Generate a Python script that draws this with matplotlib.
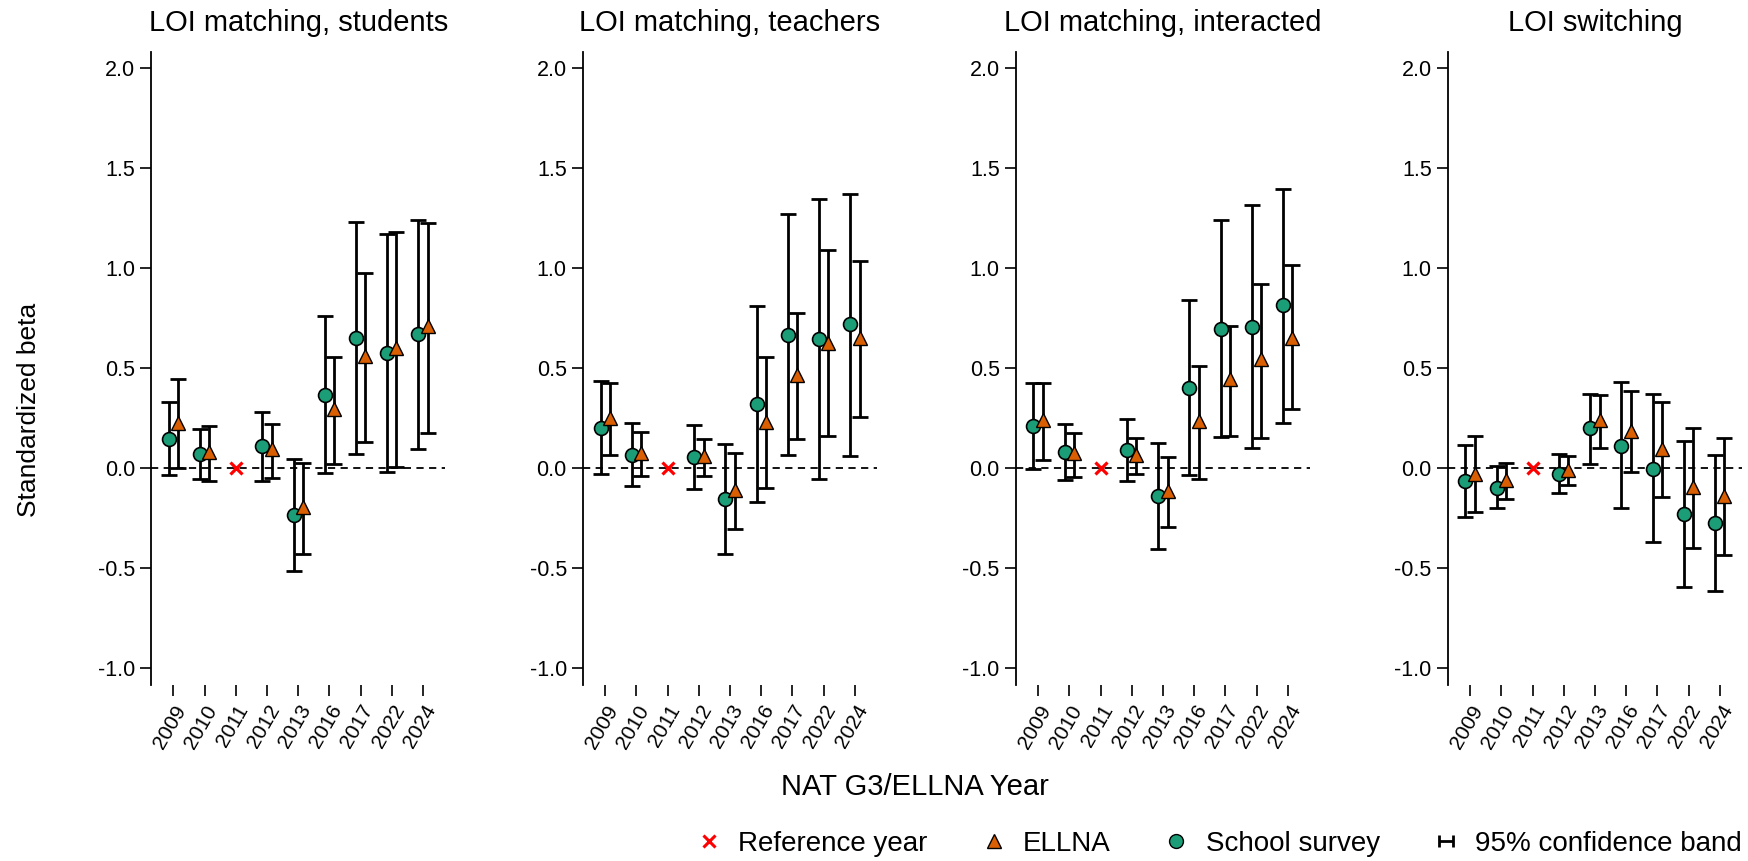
import numpy as np
import matplotlib
matplotlib.use('Agg')
import matplotlib.pyplot as plt
from matplotlib.lines import Line2D
from matplotlib.legend_handler import HandlerErrorbar
from matplotlib.container import ErrorbarContainer

plt.rcParams['font.family'] = ['Liberation Sans', 'DejaVu Sans']

# Data
years = ['2009', '2010', '2011', '2012', '2013', '2016', '2017', '2022', '2024']
ref_year = '2011'
titles = ['LOI matching, students', 'LOI matching, teachers',
          'LOI matching, interacted', 'LOI switching']
nan = np.nan

# School survey estimates and 95% bands
survey_est = [
    [0.146, 0.07, nan, 0.111, -0.234, 0.367, 0.65, 0.578, 0.67],
    [0.203, 0.068, nan, 0.055, -0.153, 0.32, 0.668, 0.645, 0.72],
    [0.213, 0.083, nan, 0.093, -0.137, 0.403, 0.698, 0.708, 0.815],
    [-0.063, -0.097, nan, -0.028, 0.2, 0.113, -0.002, -0.228, -0.272],
]
survey_lo = [
    [-0.033, -0.054, nan, -0.062, -0.512, -0.025, 0.07, -0.017, 0.095],
    [-0.028, -0.088, nan, -0.105, -0.428, -0.17, 0.068, -0.054, 0.063],
    [-0.003, -0.06, nan, -0.063, -0.403, -0.033, 0.158, 0.103, 0.228],
    [-0.243, -0.198, nan, -0.123, 0.023, -0.198, -0.368, -0.592, -0.612],
]
survey_hi = [
    [0.33, 0.195, nan, 0.283, 0.045, 0.76, 1.233, 1.173, 1.24],
    [0.437, 0.225, nan, 0.217, 0.122, 0.813, 1.272, 1.347, 1.372],
    [0.427, 0.223, nan, 0.248, 0.128, 0.842, 1.242, 1.315, 1.398],
    [0.117, 0.012, nan, 0.07, 0.373, 0.43, 0.37, 0.135, 0.067],
]

# ELLNA estimates and 95% bands
ellna_est = [
    [0.225, 0.08, nan, 0.095, -0.195, 0.295, 0.56, 0.603, 0.71],
    [0.25, 0.078, nan, 0.062, -0.108, 0.233, 0.467, 0.625, 0.65],
    [0.24, 0.075, nan, 0.067, -0.112, 0.237, 0.445, 0.545, 0.65],
    [-0.027, -0.06, nan, -0.007, 0.24, 0.187, 0.098, -0.095, -0.138],
]
ellna_lo = [
    [0.0, -0.064, nan, -0.05, -0.428, 0.02, 0.132, 0.008, 0.178],
    [0.065, -0.04, nan, -0.04, -0.303, -0.1, 0.147, 0.162, 0.258],
    [0.043, -0.042, nan, -0.028, -0.292, -0.053, 0.162, 0.153, 0.295],
    [-0.22, -0.152, nan, -0.082, 0.102, -0.02, -0.145, -0.397, -0.435],
]
ellna_hi = [
    [0.446, 0.21, nan, 0.221, 0.025, 0.558, 0.975, 1.183, 1.228],
    [0.425, 0.183, nan, 0.147, 0.077, 0.557, 0.777, 1.09, 1.038],
    [0.427, 0.175, nan, 0.15, 0.057, 0.513, 0.71, 0.92, 1.015],
    [0.162, 0.025, nan, 0.062, 0.368, 0.388, 0.33, 0.202, 0.153],
]

green = '#1b9e77'
orange = '#d95f02'
offset = 0.15

fig = plt.figure(figsize=(17.49, 8.61), dpi=100)
lefts = [0.0863, 0.3332, 0.5807, 0.8277]
x = np.arange(len(years))
ref_idx = years.index(ref_year)

for i in range(4):
    ax = fig.add_axes([lefts[i], 0.2044, 0.1684, 0.7356])
    ax.axhline(0, color='black', ls=(0, (4, 3)), lw=1.3, zorder=1)

    s = np.array(survey_est[i])
    e = np.array(ellna_est[i])
    s_err = [s - np.array(survey_lo[i]), np.array(survey_hi[i]) - s]
    e_err = [e - np.array(ellna_lo[i]), np.array(ellna_hi[i]) - e]

    ax.errorbar(x - offset, s, yerr=s_err, fmt='none', ecolor='black',
                elinewidth=2, capsize=5.5, capthick=2, zorder=2)
    ax.errorbar(x + offset, e, yerr=e_err, fmt='none', ecolor='black',
                elinewidth=2, capsize=5.5, capthick=2, zorder=2)
    ax.plot(x - offset, s, 'o', color=green, mec='black', mew=1.2, ms=10, zorder=3)
    ax.plot(x + offset, e, '^', color=orange, mec='black', mew=1.0, ms=10.5, zorder=4)
    ax.plot([ref_idx], [0], 'x', color='red', ms=9, mew=2.3, zorder=5)

    ax.set_xlim(-0.72, len(years) - 1 + 0.72)
    ax.set_ylim(-1.083, 2.083)
    ax.set_yticks([-1.0, -0.5, 0.0, 0.5, 1.0, 1.5, 2.0])
    ax.set_yticklabels(['-1.0', '-0.5', '0.0', '0.5', '1.0', '1.5', '2.0'])
    ax.set_xticks(x)
    ax.set_xticklabels(years, rotation=60, ha='right', rotation_mode='anchor')
    ax.tick_params(axis='y', labelsize=15.5, length=8, width=1.2, direction='out')
    ax.tick_params(axis='x', labelsize=15, length=8, width=1.2, direction='out', pad=4)
    for side in ['top', 'right', 'bottom']:
        ax.spines[side].set_visible(False)
    ax.spines['left'].set_linewidth(1.3)
    ax.set_title(titles[i], fontsize=21, pad=15)

fig.text(0.010, 0.524, 'Standardized beta', rotation=90, va='center',
         ha='left', fontsize=19)
fig.text(0.523, 0.086, 'NAT G3/ELLNA Year', ha='center', va='center', fontsize=21)

# legend at the bottom right
h_ref = Line2D([], [], ls='none', marker='x', color='red', ms=8, mew=2.2)
h_ellna = Line2D([], [], ls='none', marker='^', color=orange, mec='black', ms=10)
h_survey = Line2D([], [], ls='none', marker='o', color=green, mec='black', ms=10)
dummy = fig.add_axes([0, 0, 0.001, 0.001])
dummy.set_axis_off()
h_band = dummy.errorbar([nan], [nan], xerr=[0.1], fmt='none', ecolor='black',
                        elinewidth=2, capsize=4, capthick=2)
fig.legend([h_ref, h_ellna, h_survey, h_band],
           ['Reference year', 'ELLNA', 'School survey', '95% confidence band'],
           loc='lower right', bbox_to_anchor=(1.01, -0.024), ncol=4, frameon=False,
           fontsize=20, handlelength=1.0, handletextpad=0.55, columnspacing=1.87,
           handler_map={ErrorbarContainer: HandlerErrorbar(xerr_size=0.25)})

fig.savefig('out.png', dpi=100)
